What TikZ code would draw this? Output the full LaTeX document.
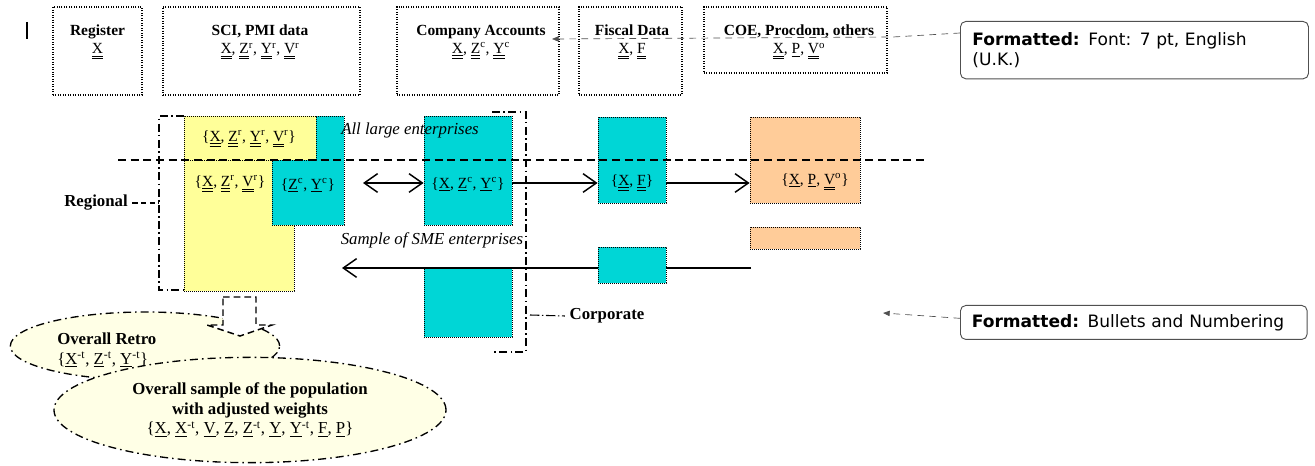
\documentclass[tikz,border=0pt]{standalone}
\usepackage{fontspec}
\setmainfont{Liberation Serif}
\newfontfamily\cmtfont{DejaVu Sans}
\usetikzlibrary{arrows.meta,shapes.geometric,fit,positioning}

\definecolor{boxyellow}{RGB}{255,255,153}
\definecolor{boxcyan}{RGB}{0,214,214}
\definecolor{boxtan}{RGB}{255,204,153}
\definecolor{ovalfill}{RGB}{255,255,230}
\definecolor{cmtgray}{RGB}{80,80,80}

\newcommand{\du}[1]{\underline{\underline{#1}}}
\newcommand{\su}[1]{\underline{#1}}
\newcommand{\sps}[1]{\textsuperscript{#1}}

\begin{document}
\begin{tikzpicture}[x=0.75pt, y=-0.75pt, font=\fontsize{11.6}{13.5}\selectfont,
    srcbox/.style={draw, line width=0.8pt, dash pattern=on 0.75pt off 1.1pt, inner sep=0pt},
    setbox/.style={draw, line width=0.6pt, dash pattern=on 0.6pt off 0.9pt, inner sep=0pt},
    srctxt/.style={anchor=north, align=center, inner sep=0pt},
    biglabel/.style={font=\fontsize{12.6}{14.6}\selectfont\bfseries},
    itlabel/.style={font=\fontsize{12.6}{14.6}\selectfont\itshape},
    bracket/.style={line width=1pt, dash pattern=on 6pt off 2.5pt on 1.2pt off 2.5pt},
    flow/.style={line width=1.1pt, arrows={-Straight Barb[length=10pt,width=14pt,line width=1.1pt]}},
    oval/.style={ellipse, draw, fill=ovalfill, line width=1pt, inner sep=0pt,
        dash pattern=on 6pt off 3pt on 1.2pt off 3pt},
    cmt/.style={draw=cmtgray, rounded corners=4pt, line width=0.7pt, align=left,
        font=\cmtfont\fontsize{12.8}{15.5}\selectfont},
    cmtline/.style={draw=cmtgray, line width=0.5pt, dash pattern=on 5pt off 4pt,
        arrows={-Triangle[length=5pt,width=4pt]}}]
    \useasboundingbox (0,0) rectangle (1315,466);

    % source boxes
    \node[srcbox, fit={(53,7) (142,95)}] (reg) {};
    \node[srcbox, fit={(163,7) (360,95)}] (sci) {};
    \node[srcbox, fit={(397,7) (559,95)}] (acc) {};
    \node[srcbox, fit={(579,7) (682,95)}] (fis) {};
    \node[srcbox, fit={(704,7) (887,73)}] (coe) {};
    \node[srctxt] (regT) at (97.5,25) {\textbf{Register}\\\du{X}};
    \node[srctxt] (sciT) at (260,25) {\textbf{SCI, PMI data}\\\du{X}, \du{Z}\sps{r}, \du{Y}\sps{r}, \du{V}\sps{r}};
    \node[srctxt] (accT) at (481,25) {\textbf{Company Accounts}\\\du{X}, \du{Z}\sps{c}, \du{Y}\sps{c}};
    \node[srctxt] (fisT) at (632,25) {\textbf{Fiscal Data}\\\du{X}, \du{F}};
    \node[srctxt] (coeT) at (799,25) {\textbf{COE, Procdom, others}\\\du{X}, \su{P}, \du{V}\sps{o}};
    \draw[line width=1.5pt] (27,22) -- (27,39);

    % regional
    \draw[bracket] (184,116) -- (159,116) -- (159,290) -- (184,290);
    \node[setbox, fill=boxyellow, fit={(184,160) (294,291)}] (regB) {};
    \node[setbox, fill=boxcyan, fit={(272,116) (344,225)}] (regC) {};
    \node[setbox, fill=boxyellow, fit={(184,116) (316,160)}] (regA) {};
    \node (regAT) at (249,139) {\{\du{X}, \du{Z}\sps{r}, \du{Y}\sps{r}, \du{V}\sps{r}\}};
    \node (regBT) at (230,184) {\{\du{X}, \du{Z}\sps{r}, \du{V}\sps{r}\}};
    \node (regCT) at (308,185) {\{\su{Z}\sps{c}, \su{Y}\sps{c}\}};
    \node[biglabel] (regL) at (96,203) {Regional};
    \coordinate (regE) at (159,203);
    \draw[line width=0.8pt, dash pattern=on 4pt off 2.5pt] (regL.east) -- (regE);

    % corporate
    \node[setbox, fill=boxcyan, fit={(424,116) (512,225)}] (acc1) {};
    \node[setbox, fill=boxcyan, fit={(424,268) (512,337)}] (acc2) {};
    \node (acc1T) at (468,184) {\{\su{X}, \su{Z}\sps{c}, \su{Y}\sps{c}\}};
    \draw[bracket] (492,112) -- (526,112) -- (526,352) -- (492,352);
    \node[biglabel] (corL) at (607,316) {Corporate};
    \coordinate (corE) at (530,315);
    \draw[line width=0.8pt, dash pattern=on 7pt off 2pt on 1pt off 2pt] (corE) -- (corL.west);

    % fiscal and others
    \node[setbox, fill=boxcyan, fit={(598,117) (666,203)}] (fis1) {};
    \node (fis1T) at (632,183) {\{\du{X}, \du{F}\}};
    \node[setbox, fill=boxtan, fit={(750,117) (860,203)}] (coe1) {};
    \node[setbox, fill=boxtan, fit={(750,227) (860,249)}] (coe2) {};
    \node (coe1T) at (815,182) {\{\su{X}, \su{P}, \du{V}\sps{o}\}};

    \node[itlabel] (large) at (410,130) {All large enterprises};
    \node[itlabel] (sme) at (432,240) {Sample of SME enterprises};
    \draw[line width=0.9pt, dash pattern=on 6pt off 3.5pt] (118,160) -- (927,160);

    % flows
    \coordinate (dblL) at (363,183);
    \draw[flow, arrows={Straight Barb[length=10pt,width=14pt,line width=1.1pt]-Straight Barb[length=10pt,width=14pt,line width=1.1pt]}]
        (dblL) -- (acc1.west |- dblL);
    \draw[flow] (acc1.east |- dblL) -- (fis1.west |- dblL);
    \draw[flow] (fis1.east |- dblL) -- (coe1.west |- dblL);
    \coordinate (smeR) at (751,268);
    \coordinate (smeL) at (342,268);
    \draw[flow] (smeR) -- (smeL);
    \node[setbox, fill=boxcyan, fit={(598,247) (666,283)}] (fis2) {};

    % totals
    \node[oval, minimum width=202pt, minimum height=51pt] (retro) at (145,346) {};
    \node[anchor=north west, align=left, inner sep=0pt, font=\fontsize{12.6}{14.4}\selectfont] (retroT) at (57,333)
        {\textbf{Overall Retro}\\\{\su{X}\sps{-t}, \su{Z}\sps{-t}, \su{Y}\sps{-t}\}};
    \draw[line width=1.1pt, fill=white, dash pattern=on 5pt off 3pt]
        (223,297) -- (256,297) -- (256,325) -- (272,325) -- (240,336) -- (207,325) -- (223,325) -- cycle;
    \node[oval, minimum width=294pt, minimum height=79pt, align=center,
        font=\fontsize{12.6}{14.6}\selectfont] (total) at (250,410)
        {\textbf{Overall sample of the population}\\\textbf{with adjusted weights}\\
         \{\su{X}, \su{X}\sps{-t}, \su{V}, \su{Z}, \su{Z}\sps{-t}, \su{Y}, \su{Y}\sps{-t}, \su{F}, \su{P}\}};

    % comments
    \node[cmt, anchor=north west, minimum width=261pt, minimum height=43pt, text width=243pt] (cmt1) at (960,21)
        {\textbf{Formatted:} Font: 7 pt, English\\(U.K.)};
    \node[cmt, anchor=north west, minimum width=260pt, minimum height=25.5pt, text width=243pt] (cmt2) at (960,305)
        {\textbf{Formatted:} Bullets and Numbering};
    \coordinate (cmt1tip) at (552,39);
    \coordinate (cmt2tip) at (883,313);
    \draw[cmtline] ([yshift=-9pt]cmt1.north west) -- (893,37) -- (cmt1tip);
    \draw[cmtline] ([yshift=-10pt]cmt2.north west) -- (cmt2tip);
\end{tikzpicture}
\end{document}
